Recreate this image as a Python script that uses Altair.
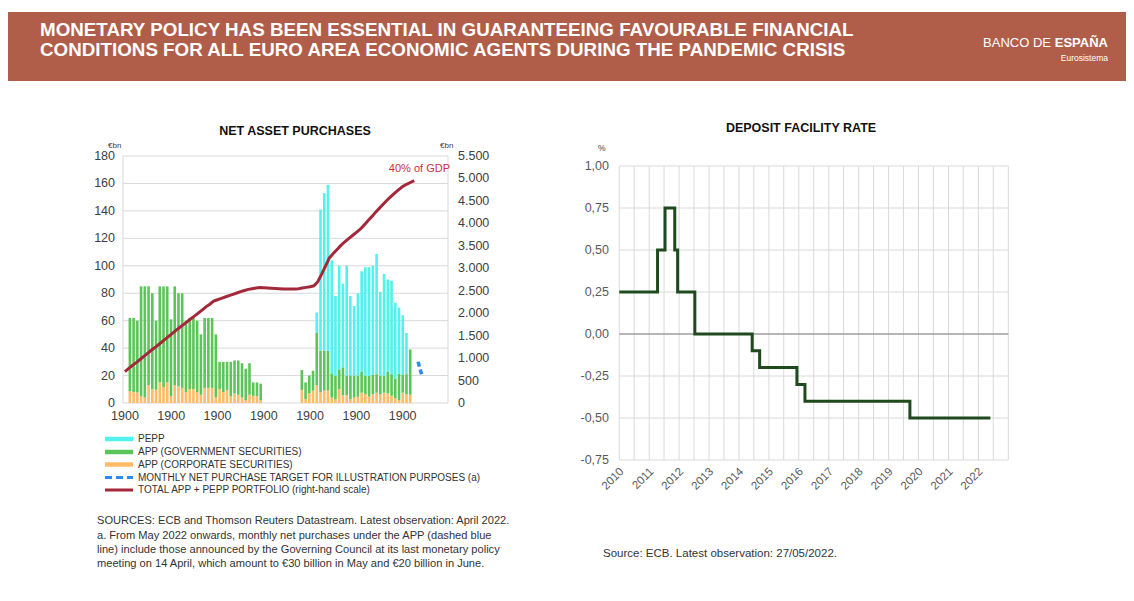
import altair as alt
import pandas as pd

W, H = 1118, 585
FONT = "Liberation Sans, Arial, Helvetica, sans-serif"
NARROW = "Liberation Sans Narrow, Arial Narrow, Liberation Sans, Arial, sans-serif"

# ---------------- DATA ----------------
# Left panel: monthly net purchases (EUR bn), month index 1 = Jan 2016 ... 76 = Apr 2022
months = list(range(1, 77))
app_corp = [8.7, 8.0, 7.6, 5.0, 4.0, 13.0, 10.0, 9.6, 15.0, 11.5, 15.0, 5.0,
            13.0, 12.0, 11.0, 8.0, 10.0, 10.0, 8.0, 6.0, 11.0, 11.0, 11.0, 4.0,
            10.0, 8.0, 9.5, 5.0, 7.0, 6.0, 4.0, 2.0, 6.0, 5.0, 5.0, 2.0,
            0, 0, 0, 0, 0, 0, 0, 0, 0, 0, 9.5, 2.7,
            7.0, 9.0, 13.0, 8.0, 9.0, 9.0, 4.0, 2.6, 10.0, 5.6, 5.8, 2.7,
            4.0, 4.5, 7.5, 6.5, 4.6, 6.5, 7.5, 6.5, 7.5, 7.0, 5.3, 3.4,
            1.9, 7.5, 6.5, 6.0]
app_gov = [53.3, 54.0, 52.4, 80.0, 81.0, 72.0, 70.0, 50.4, 70.0, 73.5, 70.0, 56.0,
           72.0, 68.0, 69.0, 52.0, 52.0, 52.0, 52.0, 44.0, 51.0, 51.0, 51.0, 46.0,
           20.0, 22.0, 20.5, 25.0, 24.0, 25.0, 25.0, 23.0, 23.0, 10.0, 10.0, 12.0,
           0, 0, 0, 0, 0, 0, 0, 0, 0, 0, 14.5, 12.3,
           13.0, 14.5, 38.0, 30.0, 29.0, 29.0, 17.6, 17.4, 14.5, 20.4, 13.9, 17.3,
           16.0, 15.5, 15.5, 13.5, 15.1, 13.9, 13.5, 13.2, 12.2, 15.9, 15.7, 14.3,
           19.5, 12.9, 14.5, 33.0]
pepp = [0, 0, 0, 0, 0, 0, 0, 0, 0, 0, 0, 0,
        0, 0, 0, 0, 0, 0, 0, 0, 0, 0, 0, 0,
        0, 0, 0, 0, 0, 0, 0, 0, 0, 0, 0, 0,
        0, 0, 0, 0, 0, 0, 0, 0, 0, 0, 0, 0,
        0, 0, 15.0, 103.0, 115.0, 121.0, 82.4, 58.0, 75.5, 61.0, 80.3, 58.0,
        50.7, 60.0, 73.0, 79.0, 79.3, 79.6, 87.6, 61.3, 74.3, 67.1, 68.0, 55.3,
        48.1, 43.6, 30.0, 0]
portfolio = [700, 770, 840, 905, 975, 1045, 1115, 1185, 1250, 1320, 1390, 1460,
             1530, 1600, 1670, 1735, 1800, 1870, 1935, 2000, 2070, 2140, 2200, 2270,
             2300, 2330, 2360, 2390, 2420, 2450, 2480, 2505, 2530, 2545, 2560, 2570,
             2565, 2560, 2555, 2550, 2545, 2540, 2540, 2540, 2540, 2545, 2560, 2575,
             2590, 2610, 2700, 2870, 3050, 3230, 3330, 3420, 3510, 3590, 3660, 3730,
             3800, 3870, 3960, 4060, 4150, 4250, 4340, 4430, 4520, 4600, 4680, 4750,
             4820, 4870, 4910, 4950]
target_months = [77, 78]
target_vals = [30, 20]

left_ticks = [0, 20, 40, 60, 80, 100, 120, 140, 160, 180]
right_ticks = [0, 500, 1000, 1500, 2000, 2500, 3000, 3500, 4000, 4500, 5000, 5500]
right_labels = ["0", "500", "1.000", "1.500", "2.000", "2.500", "3.000",
                "3.500", "4.000", "4.500", "5.000", "5.500"]
x_tick_months = [1, 13, 25, 37, 49, 61, 73]
x_tick_labels = ["1900", "1900", "1900", "1900", "1900", "1900", "1900"]

series_names = ["APP (CORPORATE SECURITIES)", "APP (GOVERNMENT SECURITIES)", "PEPP"]

# Right panel: deposit facility rate (%)
rate_dates = ["2010-01-01", "2011-04-13", "2011-07-13", "2011-11-09", "2011-12-14",
              "2012-07-11", "2014-06-11", "2014-09-10", "2015-12-09", "2016-03-16",
              "2019-09-18", "2022-05-27"]
rate_vals = [0.25, 0.50, 0.75, 0.50, 0.25, 0.00, -0.10, -0.20, -0.30, -0.40, -0.50, -0.50]
rate_ticks = [-0.75, -0.5, -0.25, 0.0, 0.25, 0.5, 0.75, 1.0]
rate_labels = ["-0,75", "-0,50", "-0,25", "0,00", "0,25", "0,50", "0,75", "1,00"]
year_labels = [str(y) for y in range(2010, 2023)]
year_dates = [f"{y}-01-01" for y in range(2010, 2023)]
grid_dates = [f"{y}-{m:02d}-01" for y in range(2010, 2023) for m in (1, 7)] + ["2023-01-01"]

# ---------------- STYLE ----------------
CYAN, GREEN, ORANGE = "#52F2EE", "#5CC55A", "#FFBB66"
BLUE, RED, DGREEN = "#2B8CF0", "#A3283A", "#1E4A1E"
GRID = "#D9D9D9"
HEADER = "#B05E4A"

one = pd.DataFrame({"k": [0]})


def txt(s, x, y, size=11, color="#333333", weight="normal", align="left",
        baseline="alphabetic", font=FONT, angle=0):
    return alt.Chart(one).mark_text(
        text=s, fontSize=size, color=color, fontWeight=weight, align=align,
        baseline=baseline, font=font, angle=angle
    ).encode(x=alt.value(x), y=alt.value(y))


def box(x, x2, y, y2, color):
    return alt.Chart(one).mark_rect(color=color).encode(
        x=alt.value(x), x2=alt.value(x2), y=alt.value(y), y2=alt.value(y2))


def vline(x, y, y2, color, w=1):
    return alt.Chart(one).mark_rule(color=color, strokeWidth=w).encode(
        x=alt.value(x), y=alt.value(y), y2=alt.value(y2))


layers = []

# ---------------- HEADER ----------------
layers.append(box(0, W, 4, 73, HEADER))
layers.append(txt("MONETARY POLICY HAS BEEN ESSENTIAL IN GUARANTEEING FAVOURABLE FINANCIAL",
                  32, 28, size=18.8, color="white", weight="bold", font=NARROW))
layers.append(txt("CONDITIONS FOR ALL EURO AREA ECONOMIC AGENTS DURING THE PANDEMIC CRISIS",
                  32, 47.5, size=18.8, color="white", weight="bold", font=NARROW))
layers.append(txt("ESPAÑA", 1100, 39, size=13, color="white", weight="bold", align="right"))
layers.append(txt("BANCO DE", 1043, 39, size=13, color="white", weight=300, align="right"))
layers.append(txt("Eurosistema", 1100, 53, size=8.5, color="white", align="right"))

# ---------------- LEFT PANEL ----------------
xL = alt.Scale(domain=[0.5, 84.5], range=[115, 439], nice=False, zero=False)
yL = alt.Scale(domain=[0, 180], range=[395, 148], nice=False, zero=False)
yR = alt.Scale(domain=[0, 5500], range=[395, 148], nice=False, zero=False)

grid_l = alt.Chart(pd.DataFrame({"t": left_ticks})).mark_rule(color=GRID, strokeWidth=1).encode(
    y=alt.Y("t:Q", scale=yL, axis=None), x=alt.value(115), x2=alt.value(440))
layers.append(grid_l)
layers.append(vline(115, 148, 395, GRID))
layers.append(vline(440, 148, 395, GRID))

rows = []
for i, m in enumerate(months):
    for name, arr, o in ((series_names[0], app_corp, 1), (series_names[1], app_gov, 2),
                         (series_names[2], pepp, 3)):
        rows.append({"m": m, "s": name, "v": arr[i], "o": o})
bars_df = pd.DataFrame(rows)

bars = alt.Chart(bars_df).transform_filter("datum.v > 0").mark_bar(size=2.6).encode(
    x=alt.X("m:Q", scale=xL, axis=None),
    y=alt.Y("v:Q", stack="zero", scale=yL, axis=None),
    color=alt.Color("s:N", scale=alt.Scale(domain=series_names, range=[ORANGE, GREEN, CYAN]),
                    legend=None),
    order=alt.Order("o:Q", sort="ascending"),
)
layers.append(bars)

port = alt.Chart(pd.DataFrame({"m": months, "v": portfolio})).mark_line(
    color=RED, strokeWidth=3).encode(
    x=alt.X("m:Q", scale=xL, axis=None), y=alt.Y("v:Q", scale=yR, axis=None))
layers.append(port)

target = alt.Chart(pd.DataFrame({"m": target_months, "v": target_vals})).mark_line(
    color=BLUE, strokeWidth=3.5, strokeDash=[5, 3]).encode(
    x=alt.X("m:Q", scale=xL, axis=None), y=alt.Y("v:Q", scale=yL, axis=None))
layers.append(target)

lab_l = alt.Chart(pd.DataFrame({"t": left_ticks, "lab": [str(t) for t in left_ticks]})).mark_text(
    align="right", baseline="middle", fontSize=12.5, color="#404040", font=FONT).encode(
    y=alt.Y("t:Q", scale=yL, axis=None), x=alt.value(107), text="lab:N")
layers.append(lab_l)
lab_r = alt.Chart(pd.DataFrame({"t": right_ticks, "lab": right_labels})).mark_text(
    align="left", baseline="middle", fontSize=12.5, color="#404040", font=FONT).encode(
    y=alt.Y("t:Q", scale=yR, axis=None), x=alt.value(450), text="lab:N")
layers.append(lab_r)
lab_x = alt.Chart(pd.DataFrame({"m": x_tick_months, "lab": x_tick_labels})).mark_text(
    align="center", baseline="middle", fontSize=12.5, color="#404040", font=FONT).encode(
    x=alt.X("m:Q", scale=xL, axis=None), y=alt.value(408), text="lab:N")
layers.append(lab_x)

layers.append(txt("NET ASSET PURCHASES", 287, 123, size=12.5, color="#111111", weight="bold",
                  align="center", baseline="middle"))
layers.append(txt("€bn", 100, 138, size=8, color="#404040", baseline="middle"))
layers.append(txt("€bn", 432, 138, size=8, color="#404040", baseline="middle"))
layers.append(txt("40% of GDP", 442, 164, size=11, color="#C8323C", align="right"))

# legend
leg_y = [431, 444, 456.5, 469.5, 482]
leg_items = [("PEPP", CYAN, None, 4.5), ("APP (GOVERNMENT SECURITIES)", GREEN, None, 4.5),
             ("APP (CORPORATE SECURITIES)", ORANGE, None, 4.5),
             ("MONTHLY NET PURCHASE TARGET FOR ILLUSTRATION PURPOSES (a)", BLUE, [7, 4], 3),
             ("TOTAL APP + PEPP PORTFOLIO (right-hand scale)", RED, None, 3)]
for yy, (lab, col, dash, w) in zip(leg_y, leg_items):
    kw = dict(color=col, strokeWidth=w)
    if dash:
        kw["strokeDash"] = dash
    layers.append(alt.Chart(one).mark_rule(**kw).encode(
        x=alt.value(97), x2=alt.value(125), y=alt.value(yy)))
    layers.append(txt(lab, 130, yy, size=10, color="#333333", baseline="middle"))

src_left = ["SOURCES: ECB and Thomson Reuters Datastream. Latest observation: April 2022.",
            "a. From May 2022 onwards, monthly net purchases under the APP (dashed blue",
            "line) include those announced by the Governing Council at its last monetary policy",
            "meeting on 14 April, which amount to €30 billion in May and €20 billion in June."]
for yy, line in zip([516, 531, 545, 559], src_left):
    layers.append(txt(line, 89, yy, size=11.1, color="#333333"))

# ---------------- RIGHT PANEL ----------------
xR = alt.Scale(domain=[alt.DateTime(year=2010, month=1, date=1, utc=True),
                       alt.DateTime(year=2023, month=1, date=1, utc=True)],
               range=[611.3, 1000.3], nice=False)
yR2 = alt.Scale(domain=[-0.75, 1.0], range=[452, 158], nice=False, zero=False)

vgrid = alt.Chart(pd.DataFrame({"d": grid_dates})).mark_rule(color=GRID, strokeWidth=1).encode(
    x=alt.X("d:T", scale=xR, axis=None), y=alt.value(158), y2=alt.value(452))
layers.append(vgrid)
hgrid = alt.Chart(pd.DataFrame({"t": rate_ticks})).mark_rule(color=GRID, strokeWidth=1).encode(
    y=alt.Y("t:Q", scale=yR2, axis=None), x=alt.value(611.3), x2=alt.value(1000.3))
layers.append(hgrid)
zero = alt.Chart(pd.DataFrame({"t": [0.0]})).mark_rule(color="#808080", strokeWidth=1).encode(
    y=alt.Y("t:Q", scale=yR2, axis=None), x=alt.value(611.3), x2=alt.value(1000.3))
layers.append(zero)

rate = alt.Chart(pd.DataFrame({"d": rate_dates, "v": rate_vals})).mark_line(
    color=DGREEN, strokeWidth=3, interpolate="step-after").encode(
    x=alt.X("d:T", scale=xR, axis=None), y=alt.Y("v:Q", scale=yR2, axis=None))
layers.append(rate)

lab_ry = alt.Chart(pd.DataFrame({"t": rate_ticks, "lab": rate_labels})).mark_text(
    align="right", baseline="middle", fontSize=12.5, color="#595959", font=FONT).encode(
    y=alt.Y("t:Q", scale=yR2, axis=None), x=alt.value(601), text="lab:N")
layers.append(lab_ry)
lab_rx = alt.Chart(pd.DataFrame({"d": year_dates, "lab": year_labels})).mark_text(
    align="right", baseline="middle", fontSize=11.5, color="#595959", font=FONT,
    angle=315, dx=4).encode(
    x=alt.X("d:T", scale=xR, axis=None), y=alt.value(465), text="lab:N")
layers.append(lab_rx)

layers.append(txt("DEPOSIT FACILITY RATE", 793, 120, size=12.5, color="#111111", weight="bold",
                  align="center", baseline="middle"))
layers.append(txt("%", 590, 140, size=8.5, color="#404040", baseline="middle"))
layers.append(txt("Source: ECB. Latest observation: 27/05/2022.", 595, 549, size=11.5,
                  color="#333333"))

chart = alt.layer(*layers).properties(
    width=W, height=H, autosize=alt.AutoSizeParams(type="none"), padding=0,
    background="white"
).resolve_scale(x="independent", y="independent", color="independent").configure_view(stroke=None)

chart.save("out.html", embed_options={"renderer": "svg", "actions": False})
